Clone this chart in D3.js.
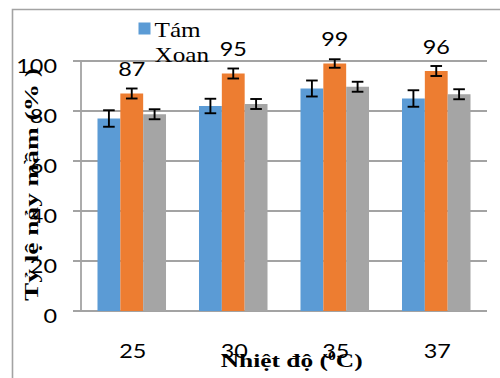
<!DOCTYPE html>
<html>
<head>
<meta charset="utf-8">
<script src="https://cdn.jsdelivr.net/npm/d3@7"></script>
<style>
  html, body { margin: 0; padding: 0; background: #fff; }
  svg { display: block; }
</style>
</head>
<body>
<svg id="chart" width="500" height="378"></svg>
<script>
// Germination rate (%) by temperature, three series with standard-error bars
const categories = ["25", "30", "35", "37"];
const tamXoan = [77, 82, 89, 85];
const tamXoanErr = [3.3, 2.9, 3.2, 3.3];
const seriesB = [87, 95, 99, 96];
const seriesBErr = [2, 2, 1.7, 2];
const seriesC = [78.7, 82.8, 89.7, 86.7];
const seriesCErr = [2, 2, 2, 2];
const valueLabels = ["87", "95", "99", "96"];
const yTicks = [0, 20, 40, 60, 80, 100];
const legendLines = ["Tám", "Xoan"];
const yTitle = "Tỷ lệ nảy mầm (% )";

const series = [
  { key: "a", values: tamXoan, err: tamXoanErr, color: "#5b9bd5" },
  { key: "b", values: seriesB, err: seriesBErr, color: "#ed7d31" },
  { key: "c", values: seriesC, err: seriesCErr, color: "#a5a5a5" }
];

const svg = d3.select("#chart");
const SX = 1.2; // horizontal text stretch
const sansFont = "Lato, 'Open Sans', sans-serif";
const serifFont = "'Liberation Serif', 'Times New Roman', serif";
const gridColor = "#a3a3a3";

const plot = { left: 81, right: 487, top: 61, bottom: 311 };

const x0 = d3.scaleBand().domain(categories)
  .range([plot.left, plot.right]).paddingInner(0.325).paddingOuter(0.1625);
const x1 = d3.scaleBand().domain(series.map(s => s.key))
  .range([0, x0.bandwidth()]).padding(0);
const y = d3.scaleLinear().domain([0, 100]).range([plot.bottom, plot.top]);

// outer frame
svg.append("path")
  .attr("d", "M12.5,378 V9.5 H500")
  .attr("fill", "none").attr("stroke", gridColor).attr("stroke-width", 1.6);

// horizontal gridlines with tick stubs
svg.append("g").selectAll("line").data(yTicks).join("line")
  .attr("x1", plot.left - 8).attr("x2", plot.right)
  .attr("y1", d => y(d)).attr("y2", d => y(d))
  .attr("stroke", gridColor).attr("stroke-width", 1.8);

// vertical axis line
svg.append("line")
  .attr("x1", plot.left).attr("x2", plot.left)
  .attr("y1", y(100)).attr("y2", y(0))
  .attr("stroke", gridColor).attr("stroke-width", 1.8);

// y tick labels
svg.append("g").selectAll("text").data(yTicks).join("text")
  .attr("transform", d => `translate(57,${y(d) + 11.5}) scale(${SX},1)`)
  .attr("text-anchor", "end")
  .attr("font-family", sansFont).attr("font-size", 19.5)
  .attr("fill", "#000")
  .text(d => d);

// bars
const groups = svg.append("g").selectAll("g").data(categories).join("g")
  .attr("transform", d => `translate(${x0(d)},0)`);

groups.selectAll("rect")
  .data((c, i) => series.map(s => ({ s, v: s.values[i] })))
  .join("rect")
  .attr("x", d => x1(d.s.key))
  .attr("y", d => y(d.v))
  .attr("width", x1.bandwidth())
  .attr("height", d => y(0) - y(d.v))
  .attr("fill", d => d.s.color);

// error bars
const errData = (c, i) => series.map(s => ({ s, v: s.values[i], e: s.err[i] }));
const cap = 5.8;
groups.selectAll("g.err").data(errData).join("g").attr("class", "err")
  .each(function(d) {
    const g = d3.select(this);
    const cx = x1(d.s.key) + x1.bandwidth() / 2;
    const yt = y(d.v + d.e), yb = y(d.v - d.e);
    g.append("line").attr("x1", cx).attr("x2", cx).attr("y1", yt).attr("y2", yb);
    g.append("line").attr("x1", cx - cap).attr("x2", cx + cap).attr("y1", yt).attr("y2", yt);
    g.append("line").attr("x1", cx - cap).attr("x2", cx + cap).attr("y1", yb).attr("y2", yb);
  })
  .attr("stroke", "#000").attr("stroke-width", 1.9);

// value labels above the middle series
svg.append("g").selectAll("text").data(categories).join("text")
  .attr("transform", (c, i) =>
    `translate(${x0(c) + x1("b") + x1.bandwidth() / 2},${y(seriesB[i]) - 17.5}) scale(${SX},1)`)
  .attr("text-anchor", "middle")
  .attr("font-family", sansFont).attr("font-size", 19.5)
  .text((c, i) => valueLabels[i]);

// x tick labels
svg.append("g").selectAll("text").data(categories).join("text")
  .attr("transform", c => `translate(${x0(c) + x0.bandwidth() / 2 + 1},358) scale(${SX},1)`)
  .attr("text-anchor", "middle")
  .attr("font-family", sansFont).attr("font-size", 19.5)
  .text(c => c);

// legend
svg.append("rect")
  .attr("x", 138.5).attr("y", 22.5).attr("width", 12).attr("height", 12)
  .attr("fill", series[0].color);
svg.append("g").selectAll("text").data(legendLines).join("text")
  .attr("transform", (d, i) => `translate(154.5,${36.7 + i * 24.8}) scale(${SX},1)`)
  .attr("font-family", serifFont).attr("font-size", 21)
  .text(d => d);

// x axis title
const xt = svg.append("text")
  .attr("font-family", serifFont).attr("font-size", 19.5).attr("font-weight", "bold");
xt.append("tspan").text("Nhiệt độ  (");
xt.append("tspan").attr("font-size", 12).attr("dy", -7).text("0");
xt.append("tspan").attr("dy", 7).text("C)");
const xtLen = xt.node().getComputedTextLength();
xt.attr("transform", `translate(220.7,367) scale(${142 / xtLen},1)`);

// y axis title
const yt = svg.append("text")
  .attr("font-family", serifFont).attr("font-size", 18).attr("font-weight", "bold")
  .attr("text-anchor", "middle")
  .text(yTitle);
const ytLen = yt.node().getComputedTextLength();
yt.attr("transform", `translate(37.5,184.5) rotate(-90) scale(${233 / ytLen},1)`);
</script>
</body>
</html>
